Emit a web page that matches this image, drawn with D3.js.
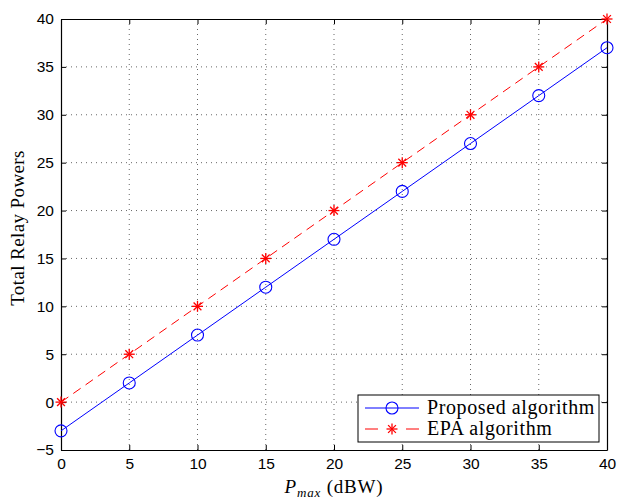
<!DOCTYPE html>
<html>
<head>
<meta charset="utf-8">
<script src="https://cdn.jsdelivr.net/npm/d3@7"></script>
<style>
body { margin: 0; background: #fff; }
svg { display: block; }
.tick text { font-family: "Liberation Sans", Arial, sans-serif; font-size: 15.5px; fill: #000; }
</style>
</head>
<body>
<div id="chart"></div>
<script>
var xValues = [0, 5, 10, 15, 20, 25, 30, 35, 40];
var proposed = [-3, 2, 7, 12, 17, 22, 27, 32, 37];
var epa = [0, 5, 10, 15, 20, 25, 30, 35, 40];
var xTicks = [0, 5, 10, 15, 20, 25, 30, 35, 40];
var yTicks = [-5, 0, 5, 10, 15, 20, 25, 30, 35, 40];

var width = 619, height = 500;
var pLeft = 61, pRight = 607, pTop = 19, pBottom = 450;
var serif = "Liberation Serif, Times New Roman, serif";

var svg = d3.select("#chart").append("svg")
    .attr("width", width)
    .attr("height", height);

var x = d3.scaleLinear().domain([0, 40]).range([pLeft, pRight]);
var y = d3.scaleLinear().domain([-5, 40]).range([pBottom, pTop]);

// grid
var grid = svg.append("g");
xTicks.forEach(function(t) {
    if (t === 0 || t === 40) return;
    grid.append("line")
        .attr("x1", x(t)).attr("x2", x(t))
        .attr("y1", pTop).attr("y2", pBottom)
        .attr("stroke", "#000").attr("stroke-width", 0.6)
        .attr("stroke-dasharray", "1,4");
});
yTicks.forEach(function(t) {
    if (t === -5 || t === 40) return;
    grid.append("line")
        .attr("x1", pLeft).attr("x2", pRight)
        .attr("y1", y(t)).attr("y2", y(t))
        .attr("stroke", "#000").attr("stroke-width", 0.6)
        .attr("stroke-dasharray", "1,4");
});

// axes
svg.append("g").attr("transform", "translate(0," + pBottom + ")")
    .call(d3.axisBottom(x).tickValues(xTicks).tickSizeInner(-5).tickSizeOuter(0).tickPadding(8));
svg.append("g").attr("transform", "translate(" + pLeft + ",0)")
    .call(d3.axisLeft(y).tickValues(yTicks).tickSizeInner(-5).tickSizeOuter(0).tickPadding(7)
        .tickFormat(function(d) { return d < 0 ? "\u2212" + Math.abs(d) : d; }));
svg.append("g").attr("transform", "translate(0," + pTop + ")")
    .call(d3.axisTop(x).tickValues(xTicks).tickSizeInner(-5).tickSizeOuter(0).tickFormat(""));
svg.append("g").attr("transform", "translate(" + pRight + ",0)")
    .call(d3.axisRight(y).tickValues(yTicks).tickSizeInner(-5).tickSizeOuter(0).tickFormat(""));
svg.selectAll(".domain").attr("stroke", "#000").attr("stroke-width", 1.2);
svg.selectAll(".tick line").attr("stroke", "#000");

// lines
var line = d3.line()
    .x(function(d, i) { return x(xValues[i]); })
    .y(function(d) { return y(d); });

svg.append("path").datum(epa)
    .attr("d", line)
    .attr("fill", "none").attr("stroke", "#ff0000").attr("stroke-width", 1)
    .attr("stroke-dasharray", "9,6");
svg.append("path").datum(proposed)
    .attr("d", line)
    .attr("fill", "none").attr("stroke", "#0000ff").attr("stroke-width", 1);

function star(g, cx, cy, r) {
    for (var k = 0; k < 4; k++) {
        var a = k * Math.PI / 4;
        g.append("line")
            .attr("x1", cx - r * Math.cos(a)).attr("y1", cy - r * Math.sin(a))
            .attr("x2", cx + r * Math.cos(a)).attr("y2", cy + r * Math.sin(a))
            .attr("stroke", "#ff0000").attr("stroke-width", 1.3);
    }
}

var markers = svg.append("g");
epa.forEach(function(d, i) { star(markers, x(xValues[i]), y(d), 5.5); });
markers.selectAll("circle").data(proposed).enter().append("circle")
    .attr("cx", function(d, i) { return x(xValues[i]); })
    .attr("cy", function(d) { return y(d); })
    .attr("r", 6)
    .attr("fill", "none").attr("stroke", "#0000ff").attr("stroke-width", 1.1);

// legend
var lg = svg.append("g");
lg.append("rect").attr("x", 358).attr("y", 395).attr("width", 241).attr("height", 47)
    .attr("fill", "#fff").attr("stroke", "#000").attr("stroke-width", 1);
lg.append("line").attr("x1", 365).attr("x2", 419).attr("y1", 408).attr("y2", 408)
    .attr("stroke", "#0000ff");
lg.append("circle").attr("cx", 392).attr("cy", 408).attr("r", 6)
    .attr("fill", "none").attr("stroke", "#0000ff").attr("stroke-width", 1.1);
lg.append("line").attr("x1", 365).attr("x2", 419).attr("y1", 429).attr("y2", 429)
    .attr("stroke", "#ff0000").attr("stroke-dasharray", "13,41");
lg.append("line").attr("x1", 406).attr("x2", 419).attr("y1", 429).attr("y2", 429)
    .attr("stroke", "#ff0000");
star(lg, 392, 429, 5.5);
lg.append("text").attr("x", 427).attr("y", 414)
    .attr("font-family", serif).attr("font-size", 20).attr("letter-spacing", 0.6)
    .text("Proposed algorithm");
lg.append("text").attr("x", 427).attr("y", 435)
    .attr("font-family", serif).attr("font-size", 20).attr("letter-spacing", 0.6)
    .text("EPA algorithm");

// axis labels
var xl = svg.append("text").attr("x", 334).attr("y", 493).attr("text-anchor", "middle")
    .attr("font-family", serif).attr("font-size", 19).attr("letter-spacing", 0.8);
xl.append("tspan").attr("font-style", "italic").text("P");
xl.append("tspan").attr("font-style", "italic").attr("font-size", 13).attr("dy", 4).text("max");
xl.append("tspan").attr("dy", -4).text(" (dBW)");

svg.append("text")
    .attr("transform", "translate(24,228) rotate(-90)")
    .attr("text-anchor", "middle")
    .attr("font-family", serif).attr("font-size", 19).attr("letter-spacing", 0.4)
    .text("Total Relay Powers");
</script>
</body>
</html>
